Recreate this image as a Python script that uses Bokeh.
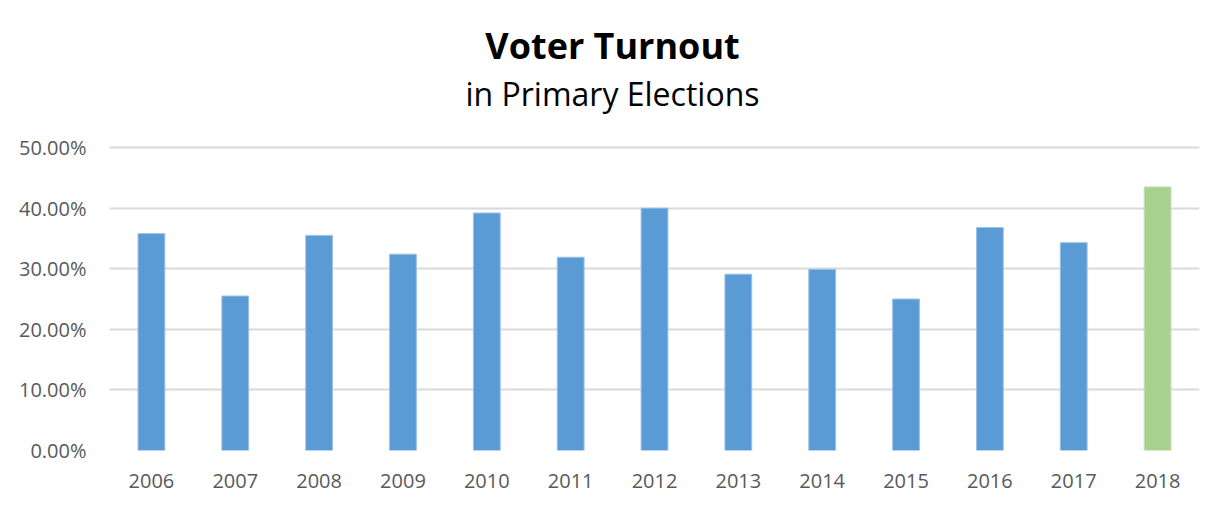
from bokeh.plotting import figure
from bokeh.models import ColumnDataSource, PrintfTickFormatter, FixedTicker, Range1d
from bokeh.layouts import column
from bokeh.core.properties import value
from bokeh.embed import file_html
from bokeh.resources import INLINE

years = ["2006", "2007", "2008", "2009", "2010", "2011", "2012",
         "2013", "2014", "2015", "2016", "2017", "2018"]
turnout = [35.8, 25.5, 35.5, 32.4, 39.2, 31.9, 40.0, 29.1, 29.9, 25.0, 36.8, 34.3, 43.5]
highlight_year = "2018"
y_ticks = [0, 10, 20, 30, 40, 50]
title_text = "Voter Turnout"
subtitle_text = "in Primary Elections"

BLUE = "#5B9BD5"
GREEN = "#A9D18E"
colors = [GREEN if y == highlight_year else BLUE for y in years]
outlines = ["#C5E0B4" if y == highlight_year else "#9DC3E6" for y in years]

W = 1208
HEAD_H = 120
LEFT = 109
RIGHT = 9

# ---- header (titles); the column aligns its frame with the chart frame,
# so the x range spans the same pixel columns as the chart frame
head = figure(width=W, height=HEAD_H, x_range=Range1d(LEFT, W - RIGHT), y_range=Range1d(HEAD_H, 0),
              output_backend="svg", toolbar_location=None, title=None,
              x_axis_type=None, y_axis_type=None, min_border=0)
head.outline_line_color = None
head.xgrid.grid_line_color = None
head.ygrid.grid_line_color = None
head.text(x=[612], y=[45], text=[title_text], text_align="center", text_baseline="middle",
          text_font=value("Open Sans"), text_font_size="36px", text_font_style="bold",
          text_color="#000000")
head.text(x=[612], y=[93], text=[subtitle_text], text_align="center", text_baseline="middle",
          text_font=value("Open Sans"), text_font_size="32px", text_font_style="normal",
          text_color="#000000")

# ---- chart
src = ColumnDataSource(dict(years=years, turnout=turnout, colors=colors, outlines=outlines))

p = figure(width=W, height=493 - HEAD_H, x_range=years, y_range=Range1d(0, 50.5),
           output_backend="svg", toolbar_location=None, title=None,
           min_border_left=LEFT, min_border_right=RIGHT, min_border_bottom=43,
           min_border_top=144 - HEAD_H)

p.vbar(x="years", top="turnout", width=0.32, source=src,
       fill_color="colors", line_color="outlines", line_width=1)

p.outline_line_color = None
p.xgrid.grid_line_color = None
p.ygrid.grid_line_color = "#D9D9D9"
p.ygrid.grid_line_width = 2
p.yaxis.ticker = FixedTicker(ticks=y_ticks)
p.yaxis.formatter = PrintfTickFormatter(format="%.2f%%")

for ax in (p.xaxis, p.yaxis):
    ax.axis_line_color = None
    ax.major_tick_line_color = None
    ax.minor_tick_line_color = None
    ax.major_label_text_font = "Open Sans"
    ax.major_label_text_font_size = "20px"
    ax.major_label_text_color = "#595959"
p.yaxis.major_label_standoff = 17
p.xaxis.major_label_standoff = 17

layout = column(head, p, spacing=0)
open("out.html", "w").write(file_html(layout, INLINE))
